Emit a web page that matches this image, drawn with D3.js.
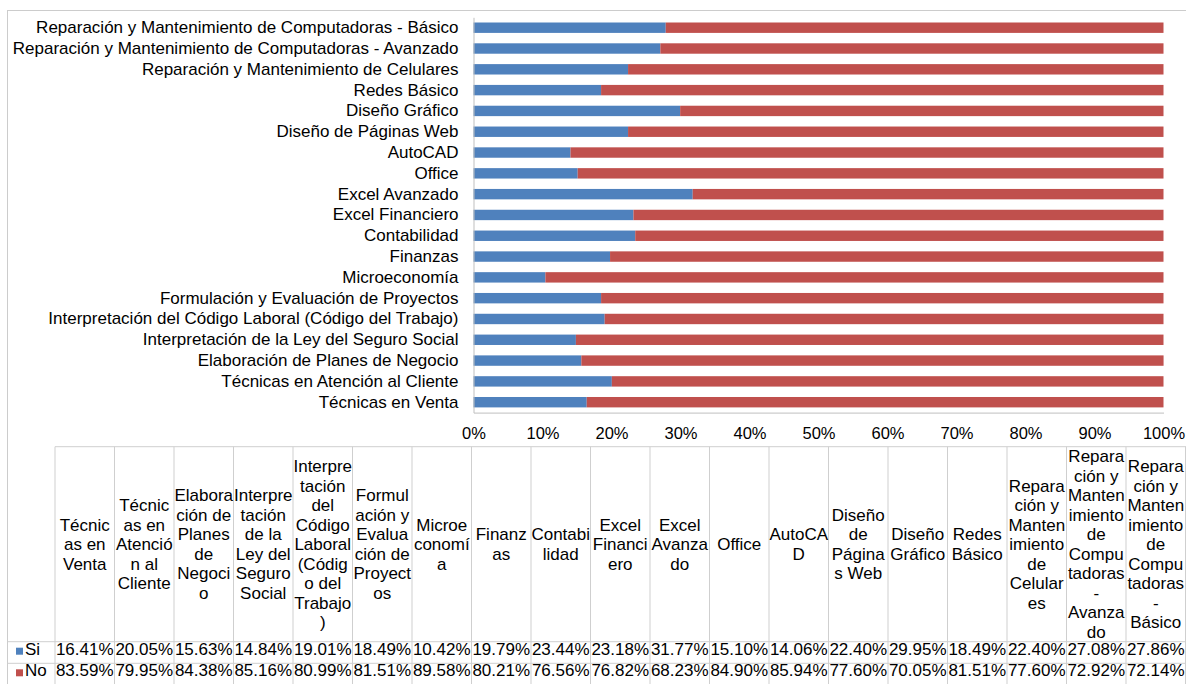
<!DOCTYPE html>
<html>
<head>
<meta charset="utf-8">
<script src="https://cdn.jsdelivr.net/npm/d3@7"></script>
<style>
  html, body { margin: 0; padding: 0; background: #fff; }
  svg { display: block; }
  text { font-family: "Liberation Sans", Arial, sans-serif; fill: #000; }
</style>
</head>
<body>
<svg id="chart" width="1186" height="684"></svg>
<script>
// ---- data (table order = bottom-to-top order of the bars) ----
const categories = [
  "Técnicas en Venta",
  "Técnicas en Atención al Cliente",
  "Elaboración de Planes de Negocio",
  "Interpretación de la Ley del Seguro Social",
  "Interpretación del Código Laboral (Código del Trabajo)",
  "Formulación y Evaluación de Proyectos",
  "Microeconomía",
  "Finanzas",
  "Contabilidad",
  "Excel Financiero",
  "Excel Avanzado",
  "Office",
  "AutoCAD",
  "Diseño de Páginas Web",
  "Diseño Gráfico",
  "Redes Básico",
  "Reparación y Mantenimiento de Celulares",
  "Reparación y Mantenimiento de Computadoras - Avanzado",
  "Reparación y Mantenimiento de Computadoras - Básico"
];
const siValues = [16.41, 20.05, 15.63, 14.84, 19.01, 18.49, 10.42, 19.79, 23.44, 23.18, 31.77, 15.10, 14.06, 22.40, 29.95, 18.49, 22.40, 27.08, 27.86];
const noValues = [83.59, 79.95, 84.38, 85.16, 80.99, 81.51, 89.58, 80.21, 76.56, 76.82, 68.23, 84.90, 85.94, 77.60, 70.05, 81.51, 77.60, 72.92, 72.14];
const seriesNames = ["Si", "No"];
const seriesColors = ["#4F81BD", "#C0504D"];
const xTickValues = [0, 10, 20, 30, 40, 50, 60, 70, 80, 90, 100];

// ---- layout ----
const FS = 17;
const FONT = FS + 'px "Liberation Sans", Arial, sans-serif';
const plot = { left: 473.5, right: 1163.5, top: 17.3, bottom: 412.6 };
const table = { left: 55, colW: 59.5, top: 446.7, headerBottom: 641.7, rowH: 21.6, lineH: 19.5 };
const gridColor = "#cfcfcf";
const axisColor = "#bfbfbf";

const svg = d3.select("#chart");

// outer chart border (cropped on the right and bottom in the reference)
svg.append("rect")
  .attr("x", 7.5).attr("y", 10.5).attr("width", 1300).attr("height", 800)
  .attr("fill", "none").attr("stroke", "#cccccc");

const rows = categories.map((c, i) => ({ cat: c, si: siValues[i], no: noValues[i] }));
const stack = d3.stack().keys(["si", "no"]);
const stacked = stack(rows);

const x = d3.scaleLinear().domain([0, 100]).range([plot.left, plot.right]);
const y = d3.scaleBand()
  .domain(categories.slice().reverse())
  .range([plot.top, plot.bottom])
  .paddingInner(0.5).paddingOuter(0.25);

// bars
svg.append("g").selectAll("g")
  .data(stacked).join("g")
  .attr("fill", (d, i) => seriesColors[i])
  .selectAll("rect")
  .data(d => d).join("rect")
  .attr("x", d => x(d[0]))
  .attr("width", d => x(d[1]) - x(d[0]))
  .attr("y", d => y(d.data.cat))
  .attr("height", y.bandwidth());

// left axis
const gy = svg.append("g")
  .attr("transform", `translate(${plot.left},0)`)
  .call(d3.axisLeft(y).tickSize(0).tickPadding(15).tickSizeOuter(0));
gy.select(".domain").attr("stroke", axisColor);
gy.selectAll("text").style("font-size", FS + "px").attr("fill", "#000");

// bottom axis
const gx = svg.append("g")
  .attr("transform", `translate(0,${plot.bottom})`)
  .call(d3.axisBottom(x).tickValues(xTickValues).tickFormat(d => d + "%").tickSize(0).tickPadding(15).tickSizeOuter(0));
gx.select(".domain").attr("stroke", axisColor);
gx.selectAll("text").style("font-size", "16.5px").attr("fill", "#000");

// ---- data table ----
const canvas = document.createElement("canvas");
const ctx = canvas.getContext("2d");
ctx.font = FONT;
const maxW = table.colW - 0.5;
const fits = s => ctx.measureText(s).width <= maxW;
function wrap(label) {
  const words = label.split(" ");
  const lines = [];
  let cur = "";
  for (let w of words) {
    const cand = cur ? cur + " " + w : w;
    if (fits(cand)) { cur = cand; continue; }
    if (cur) { lines.push(cur); cur = ""; }
    while (!fits(w)) {
      let k = 1;
      while (k < w.length && fits(w.slice(0, k + 1))) k++;
      lines.push(w.slice(0, k));
      w = w.slice(k);
    }
    cur = w;
  }
  if (cur) lines.push(cur);
  return lines;
}

const tx = d3.scaleBand().domain(categories)
  .range([table.left, table.left + table.colW * categories.length]);
const tg = svg.append("g");
const tableBottom = table.headerBottom + table.rowH * seriesNames.length;

// grid lines
tg.append("line")
  .attr("x1", table.left).attr("x2", 1300)
  .attr("y1", table.top).attr("y2", table.top)
  .attr("stroke", gridColor);
for (let r = 0; r <= seriesNames.length; r++) {
  const yy = table.headerBottom + r * table.rowH;
  tg.append("line")
    .attr("x1", 7.5).attr("x2", 1300)
    .attr("y1", yy).attr("y2", yy)
    .attr("stroke", gridColor);
}
tg.selectAll("line.v")
  .data(categories.concat(["__end"]))
  .join("line").attr("class", "v")
  .attr("x1", (d, i) => table.left + i * table.colW)
  .attr("x2", (d, i) => table.left + i * table.colW)
  .attr("y1", table.top).attr("y2", tableBottom)
  .attr("stroke", gridColor);

// header labels
const headerMid = (table.top + table.headerBottom) / 2;
categories.forEach(c => {
  const lines = wrap(c);
  const cx = tx(c) + tx.bandwidth() / 2;
  const startY = headerMid - (lines.length - 1) * table.lineH / 2;
  const t = tg.append("text")
    .attr("text-anchor", "middle")
    .style("font-size", FS + "px");
  lines.forEach((ln, i) => {
    t.append("tspan")
      .attr("x", cx)
      .attr("y", startY + i * table.lineH)
      .attr("dy", "0.35em")
      .text(ln);
  });
});

// value rows
const fmt = d3.format(".2f");
const seriesData = [siValues, noValues];
seriesNames.forEach((name, r) => {
  const top = table.headerBottom + r * table.rowH;
  const base = top + 13;
  tg.append("rect")
    .attr("x", 16).attr("y", base - 7)
    .attr("width", 7).attr("height", 7)
    .attr("fill", seriesColors[r]);
  tg.append("text")
    .attr("x", 25).attr("y", base)
    .style("font-size", FS + "px")
    .text(name);
  tg.selectAll(null)
    .data(seriesData[r])
    .join("text")
    .attr("x", (d, i) => tx(categories[i]) + tx.bandwidth() / 2)
    .attr("y", base)
    .attr("text-anchor", "middle")
    .style("font-size", FS + "px")
    .text(d => fmt(d) + "%");
});
</script>
</body>
</html>
